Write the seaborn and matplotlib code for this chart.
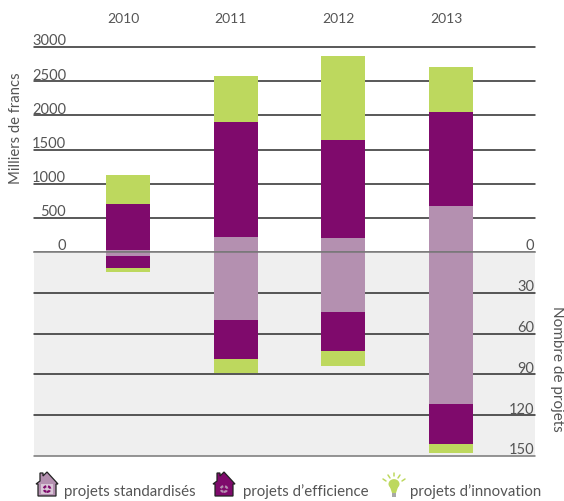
import matplotlib
matplotlib.use("Agg")
import matplotlib.pyplot as plt
import seaborn as sns
from matplotlib.patches import Polygon, Circle, Rectangle

years = ["2010", "2011", "2012", "2013"]
budget_std = [30, 220, 205, 673]
budget_eff = [672, 1680, 1435, 1377]
budget_inn = [425, 675, 1230, 660]
proj_std = [3, 50, 44, 112]
proj_eff = [9, 29, 29, 29]
proj_inn = [3, 10, 11, 7]
budget_ticks = [0, 500, 1000, 1500, 2000, 2500, 3000]
proj_ticks = [0, 30, 60, 90, 120, 150]

C_STD, C_EFF, C_INN = "#b490b0", "#7f0a6c", "#bdd85e"
TXT = "#555555"
W, H = 564, 501
FONT = "Lato"

sns.set_theme(style="white", rc={"font.family": FONT})
plt.rcParams["font.family"] = [FONT, "DejaVu Sans"]

fig = plt.figure(figsize=(W / 100, H / 100), dpi=100)

def box(x0, ytop, x1, ybot):
    return [x0 / W, 1 - ybot / H, (x1 - x0) / W, (ybot - ytop) / H]

ax_top = fig.add_axes(box(34, 47, 535, 252))
ax_bot = fig.add_axes(box(34, 252, 535, 456))
xlim = (-0.873, 3.78)
bw = 0.4085

def stack(ax, parts):
    base = [0] * len(years)
    for vals, col in parts:
        sns.barplot(x=years, y=vals, bottom=base, color=col, width=bw, saturation=1,
                    ax=ax, zorder=3, linewidth=0)
        base = [a + b for a, b in zip(base, vals)]

stack(ax_top, [(budget_std, C_STD), (budget_eff, C_EFF), (budget_inn, C_INN)])
stack(ax_bot, [(proj_std, C_STD), (proj_eff, C_EFF), (proj_inn, C_INN)])

ax_top.set_ylim(0, 3000)
ax_bot.set_ylim(150, 0)
ax_top.set_facecolor("white")
ax_bot.set_facecolor("#efefef")

for ax, ticks in ((ax_top, budget_ticks), (ax_bot, proj_ticks)):
    ax.set_xlim(*xlim)
    ax.set_xlabel("")
    ax.set_ylabel("")
    ax.set_xticks([])
    ax.set_yticks([])
    ax.patch.set_zorder(0)
    for s in ax.spines.values():
        s.set_visible(False)
    for t in ticks:
        col = "#777777" if t == 0 or t == 150 else "#2b2b2b"
        ax.axhline(t, color=col, lw=1.1, zorder=2 if t != 0 else 5, clip_on=False)

for t in budget_ticks:
    ax_top.annotate(str(t), (66 / W, t), xycoords=("figure fraction", "data"),
                    xytext=(0, -1), textcoords="offset points",
                    ha="right", va="bottom", fontsize=10.5, color=TXT, annotation_clip=False)
for t in proj_ticks:
    ax_bot.annotate(str(t), (534 / W, t), xycoords=("figure fraction", "data"),
                    xytext=(0, -1), textcoords="offset points",
                    ha="right", va="bottom", fontsize=10.5, color=TXT, annotation_clip=False)

for i, y in enumerate(years):
    ax_top.annotate(y, (i, 1), xycoords=("data", "axes fraction"), xytext=(-3.5, 20),
                    textcoords="offset points", ha="center", va="center",
                    fontsize=10, color=TXT, annotation_clip=False)

fig.text(16 / W, 1 - 128 / H, "Milliers de francs", rotation=90, ha="center", va="center",
         fontsize=10.7, color=TXT)
fig.text(557 / W, 1 - 369 / H, "Nombre de projets", rotation=270, ha="center", va="center",
         fontsize=11, color=TXT)

# legend
def fx(x): return x / W
def fy(y): return 1 - y / H

def house(x, col, inner):
    pts = [(x, 484), (x, 496), (x + 18, 496), (x + 18, 484), (x + 20, 484),
           (x + 9, 472), (x + 5, 476), (x + 5, 473), (x + 2, 473), (x + 2, 481), (x - 2, 484)]
    fig.add_artist(Polygon([(fx(a), fy(b)) for a, b in pts], closed=True,
                           facecolor=col, edgecolor="#222222", lw=0.9,
                           transform=fig.transFigure))
    fig.add_artist(Rectangle((fx(x + 3), fy(494)), 12 / W, 10 / H,
                             facecolor="#d8c6d6" if col == C_STD else col,
                             edgecolor="none", transform=fig.transFigure))
    fig.add_artist(Circle((fx(x + 9), fy(489)), 3.2 / W, facecolor="none", edgecolor=inner,
                          lw=1.6, ls=(0, (1.5, 0.8)), transform=fig.transFigure))

house(38, C_STD, C_EFF)
house(215, C_EFF, C_STD)

bx, by = 394, 487
fig.add_artist(Circle((fx(bx), fy(by - 3)), 5.5 / W, facecolor=C_INN, edgecolor="none",
                      transform=fig.transFigure))
fig.add_artist(Polygon([(fx(bx - 4), fy(by)), (fx(bx + 4), fy(by)), (fx(bx + 2), fy(by + 6)),
                        (fx(bx - 2), fy(by + 6))], closed=True, facecolor=C_INN, edgecolor="none",
                       transform=fig.transFigure))
fig.add_artist(Rectangle((fx(bx - 2), fy(by + 10)), 4 / W, 4 / H, facecolor="#a8a8a8",
                         edgecolor="none", transform=fig.transFigure))
for (a, b, c, d) in [(-11, -8, -8, -6), (-6, -12, -4, -9), (0, -14, 0, -11),
                     (6, -12, 4, -9), (11, -8, 8, -6)]:
    fig.add_artist(plt.Line2D([fx(bx + a), fx(bx + c)], [fy(by + b), fy(by + d)],
                              color=C_INN, lw=1.1, transform=fig.transFigure))

for x, label in [(64, "projets standardisés"), (243, "projets d’efficience"),
                 (410, "projets d’innovation")]:
    fig.text(x / W, 1 - 492 / H, label, ha="left", va="center", fontsize=10.85, color=TXT)

fig.savefig("out.png", dpi=100)
